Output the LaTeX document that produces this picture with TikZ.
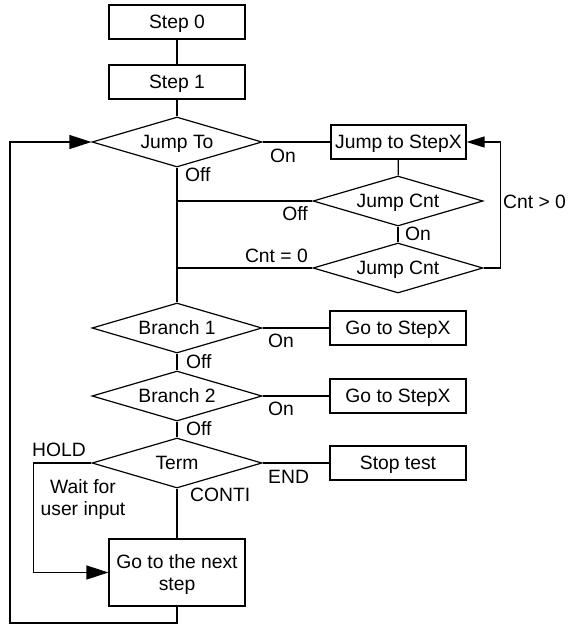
\documentclass[tikz,border=0pt]{standalone}
\usepackage{fontspec}
\setmainfont{Liberation Sans}
\usetikzlibrary{shapes.geometric,arrows.meta}
\begin{document}
\begin{tikzpicture}[x=1pt,y=-1pt,
  every node/.style={font=\fontsize{19.3}{22}\selectfont},
  ln/.style={line width=1.2pt},
  box/.style={draw,line width=1.2pt,rectangle,minimum width=136pt,minimum height=34pt,inner sep=0pt,text height=13.8pt,text depth=0pt},
  dia/.style={draw,line width=1.2pt,diamond,shape aspect=3.4,minimum width=170pt,minimum height=50pt,inner sep=0pt,text height=13.8pt,text depth=0pt},
  lab/.style={inner sep=0pt},
  arr/.style={ln,-{Triangle[length=22pt,width=14pt]}},
  arrs/.style={ln,-{Triangle[length=18pt,width=11pt]}}]
\useasboundingbox (0,0) rectangle (569,624);
% nodes
\node[box] (s0) at (177,22) {Step 0};
\node[box] (s1) at (177,82) {Step 1};
\node[dia] (jt) at (177,142) {Jump To};
\node[box,minimum width=135pt] (jx) at (398.5,142) {Jump to StepX};
\node[dia] (jc1) at (398,201) {Jump Cnt};
\node[dia] (jc2) at (398,268) {Jump Cnt};
\node[dia] (b1) at (177,328) {Branch 1};
\node[box] (g1) at (398,328) {Go to StepX};
\node[dia] (b2) at (177,396) {Branch 2};
\node[box] (g2) at (398,396) {Go to StepX};
\node[dia] (tm) at (177,463) {Term};
\node[box] (st) at (398,463) {Stop test};
\node[draw,line width=1.2pt,rectangle,minimum width=136pt,minimum height=67pt,inner sep=0pt,align=center,text depth=0pt] (ns) at (177,572.5) {Go to the next\\step};
\coordinate (lp) at (10,623);
% connectors
\draw[ln] (s0) -- (s1);
\draw[ln] (s1) -- (jt);
\draw[ln] (jt.east) -- (jx.west);
\draw[ln] (jx) -- (jc1);
\draw[ln] (jc1) -- (jc2);
\draw[ln] (jt.south) -- (b1.north);
\draw[ln] (jc1.west) -- (jc1.west -| jt.south);
\draw[ln] (jc2.west) -- (jc2.west -| jt.south);
\draw[arrs] (jc2.east) -- ++(17,0) |- (jx.east);
\draw[ln] (b1.east) -- (g1.west);
\draw[ln] (b1) -- (b2);
\draw[ln] (b2.east) -- (g2.west);
\draw[ln] (b2) -- (tm);
\draw[ln] (tm.east) -- (st.west);
\draw[ln] (tm) -- (ns);
\draw[arr] (tm.west) -- ++(-58,0) |- (ns.west);
\draw[arr] (ns.south) |- (lp) |- (jt.west);
% labels
\node[lab,anchor=base west] (l1) at (270,162) {On};
\node[lab,anchor=base west] (l2) at (185,181) {Off};
\node[lab,anchor=base east] (l3) at (308,220) {Off};
\node[lab,anchor=base west] (l4) at (405,240) {On};
\node[lab,anchor=base east] (l5) at (308,262) {Cnt = 0};
\node[lab,anchor=base west] (l6) at (503,208) {Cnt > 0};
\node[lab,anchor=base west] (l7) at (268,347) {On};
\node[lab,anchor=base west] (l8) at (186,368) {Off};
\node[lab,anchor=base west] (l9) at (268,415) {On};
\node[lab,anchor=base west] (l10) at (186,435) {Off};
\node[lab,anchor=base west] (l11) at (32,456) {HOLD};
\node[lab,anchor=base west] (l12) at (268,483) {END};
\node[lab,anchor=base west] (l13) at (190,501) {CONTI};
\node[lab,anchor=base] (l14) at (83,493) {Wait for};
\node[lab,anchor=base] (l15) at (83,515) {user input};
\end{tikzpicture}
\end{document}
